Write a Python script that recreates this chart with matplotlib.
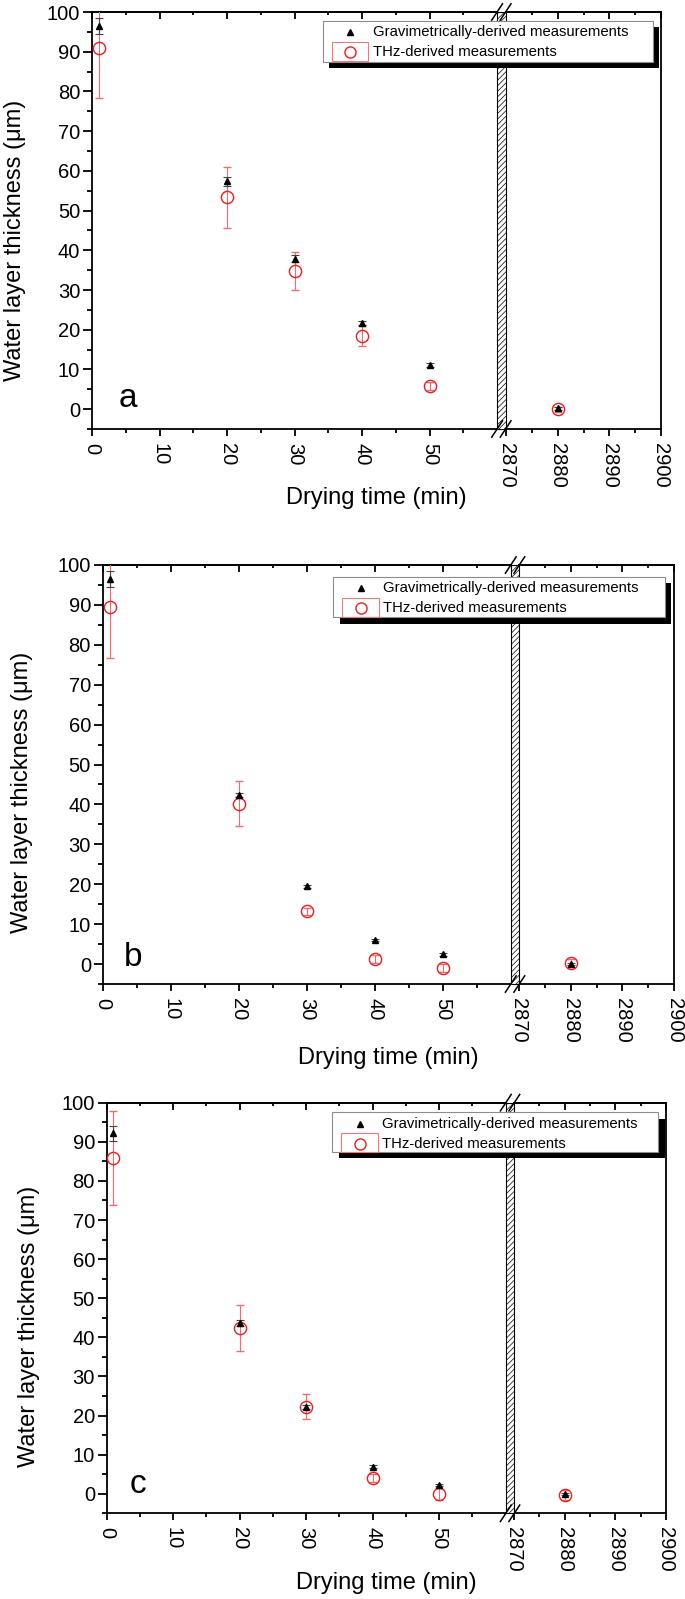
import matplotlib
matplotlib.use("Agg")
import matplotlib.pyplot as plt
from matplotlib.patches import Rectangle
from matplotlib.lines import Line2D
from matplotlib.ticker import FixedLocator

plt.rcParams['font.family'] = ['Liberation Sans', 'DejaVu Sans']
plt.rcParams['hatch.linewidth'] = 0.5

# drying times (min)
times = [1, 20, 30, 40, 50, 2880]

# panel a
grav_a = [96.5, 57.4, 37.9, 21.6, 11.1, 0.2]
grav_a_err = [2.0, 1.1, 0.8, 0.5, 0.4, 0.3]
thz_a = [91.0, 53.3, 34.8, 18.4, 5.8, 0.0]
thz_a_err = [12.7, 7.6, 4.8, 2.5, 1.0, 0.6]

# panel b
grav_b = [96.4, 42.3, 19.5, 6.1, 2.4, 0.0]
grav_b_err = [2.0, 0.5, 0.4, 0.3, 0.3, 0.3]
thz_b = [89.4, 40.2, 13.2, 1.2, -0.9, 0.3]
thz_b_err = [12.6, 5.7, 0.8, 1.0, 1.0, 1.0]

# panel c
grav_c = [92.2, 43.6, 22.1, 6.9, 2.2, 0.0]
grav_c_err = [1.9, 0.8, 0.5, 0.4, 0.3, 0.3]
thz_c = [85.9, 42.4, 22.3, 4.0, -0.1, -0.3]
thz_c_err = [12.0, 5.9, 3.2, 1.0, 1.5, 1.2]

letters = ['a', 'b', 'c']
grav_label = 'Gravimetrically-derived measurements'
thz_label = 'THz-derived measurements'

W, H = 685, 1599
fig = plt.figure(figsize=(W / 100, H / 100), dpi=100)


def fx(x):
    return x / W


def fy(y):
    return 1 - y / H


def box(x0, y0, x1, y1):
    return [fx(x0), fy(y1), (x1 - x0) / W, (y1 - y0) / H]


# pixel layout of each panel: left, gapL, gapR, right, top, bottom
layout = [
    dict(l=92, gl=497, gr=506, r=661, t=12, b=429, leg=(322.7, 20.7, 652.7, 61.7),
         ylab=(15, 240), xlab=498, let=(3.9, 0.6)),
    dict(l=102.7, gl=510.7, gr=519, r=674, t=565, b=984, leg=(333.3, 576.7, 665, 617.3),
         ylab=(22, 792), xlab=1058, let=(3.1, -0.5)),
    dict(l=106.7, gl=505.7, gr=514, r=666, t=1102.7, b=1513.3, leg=(332.3, 1112.3, 658.3, 1151.7),
         ylab=(29, 1326), xlab=1583, let=(3.5, 0.2)),
]

data = [(grav_a, grav_a_err, thz_a, thz_a_err),
        (grav_b, grav_b_err, thz_b, thz_b_err),
        (grav_c, grav_c_err, thz_c, thz_c_err)]

tick_fs = 14.5
lab_fs = 17

for p, (g, ge, t, te), letter in zip(layout, data, letters):
    axL = fig.add_axes(box(p['l'], p['t'], p['gl'], p['b']))
    axR = fig.add_axes(box(p['gr'], p['t'], p['r'], p['b']))

    for ax in (axL, axR):
        ax.errorbar(times, t, yerr=te, fmt='o', ms=8.8, mfc='none', mec='#ee1c1c', mew=1.0,
                    ecolor='#f26a6a', elinewidth=0.8, capsize=3, capthick=0.8, zorder=3)
        ax.errorbar(times, g, yerr=ge, fmt='^', ms=4.3, color='black',
                    ecolor='#444444', elinewidth=0.8, capsize=3, capthick=0.8, zorder=4)
        ax.set_ylim(-5, 100)
        for s in ax.spines.values():
            s.set_linewidth(1.3)
        ax.tick_params(axis='x', which='major', direction='out', length=5, width=1.3,
                       labelsize=tick_fs, labelrotation=-90, pad=5)
        ax.tick_params(axis='x', which='minor', direction='out', length=3, width=1.3)

    axL.set_xlim(0, 60)
    axL.set_xticks([0, 10, 20, 30, 40, 50])
    axL.xaxis.set_minor_locator(FixedLocator([5, 15, 25, 35, 45, 55]))
    axR.set_xlim(2870, 2900)
    axR.set_xticks([2870, 2880, 2890, 2900])
    axR.xaxis.set_minor_locator(FixedLocator([2875, 2885, 2895]))

    axL.spines['right'].set_visible(False)
    axR.spines['left'].set_visible(False)

    axL.set_yticks(range(0, 101, 10))
    axL.yaxis.set_minor_locator(FixedLocator(range(-5, 100, 10)))
    axL.tick_params(axis='y', which='major', direction='out', length=6.5, width=1.3,
                    labelsize=tick_fs, pad=2)
    axL.tick_params(axis='y', which='minor', direction='out', length=3.5, width=1.3)
    axR.tick_params(axis='y', which='both', left=False, right=False, labelleft=False)

    # inward ticks on the top axis
    for ax in (axL, axR):
        sec = ax.secondary_xaxis('top')
        sec.set_xticks(ax.get_xticks(), labels=[])
        sec.xaxis.set_minor_locator(FixedLocator(ax.xaxis.get_minorticklocs()))
        sec.tick_params(which='major', direction='in', length=5, width=1.3)
        sec.tick_params(which='minor', direction='in', length=2.5, width=1.3)
        sec.spines['top'].set_linewidth(1.3)

    axL.text(p['let'][0], p['let'][1], letter, fontsize=24, ha='left', va='baseline')

    # hatched break bar
    fig.add_artist(Rectangle((fx(p['gl']), fy(p['b'])), (p['gr'] - p['gl']) / W,
                             (p['b'] - p['t']) / H, transform=fig.transFigure,
                             facecolor='white', edgecolor='black', hatch='//////', lw=0.8,
                             zorder=2))
    # break marks
    for yb in (p['t'], p['b']):
        for dx in (0, 8.5):
            fig.add_artist(Line2D([fx(p['gl'] - 5.3 + dx), fx(p['gl'] + 5.5 + dx)],
                                  [fy(yb + 8.2), fy(yb - 8.2)], color='black', lw=1.1,
                                  transform=fig.transFigure, zorder=6))

    # labels
    fig.text(fx((p['l'] + p['r']) / 2), fy(p['xlab']), 'Drying time (min)',
             fontsize=lab_fs, ha='center', va='center')
    fig.text(fx(p['ylab'][0]), fy(p['ylab'][1]), 'Water layer thickness (\u03bcm)',
             fontsize=lab_fs, ha='center', va='center', rotation=90)

    # legend box with solid shadow
    L, T, R, B = p['leg']
    fig.add_artist(Rectangle((fx(L + 6.3), fy(B + 6.3)), (R - L) / W, (B - T) / H,
                             transform=fig.transFigure, facecolor='black', edgecolor='none',
                             zorder=10))
    fig.add_artist(Rectangle((fx(L), fy(B)), (R - L) / W, (B - T) / H,
                             transform=fig.transFigure, facecolor='white', edgecolor='#8c8c8c',
                             lw=0.8, zorder=11))
    fig.add_artist(Line2D([fx(L + 27.3)], [fy(T + 11.5)], marker='^', ms=4.5, color='black',
                          ls='none', transform=fig.transFigure, zorder=12))
    fig.add_artist(Rectangle((fx(L + 9), fy(T + 40)), 36.5 / W, 19 / H,
                             transform=fig.transFigure, facecolor='none', edgecolor='#f07a7a',
                             lw=0.8, zorder=12))
    fig.add_artist(Line2D([fx(L + 27.3)], [fy(T + 31.3)], marker='o', ms=8, mfc='none',
                          mec='#ee1c1c', mew=1.0, ls='none', transform=fig.transFigure,
                          zorder=13))
    fig.text(fx(L + 50), fy(T + 11.5), grav_label, fontsize=10.7, va='center', zorder=12)
    fig.text(fx(L + 50), fy(T + 31.3), thz_label, fontsize=10.7, va='center', zorder=12)

fig.savefig('out.png', dpi=100)
